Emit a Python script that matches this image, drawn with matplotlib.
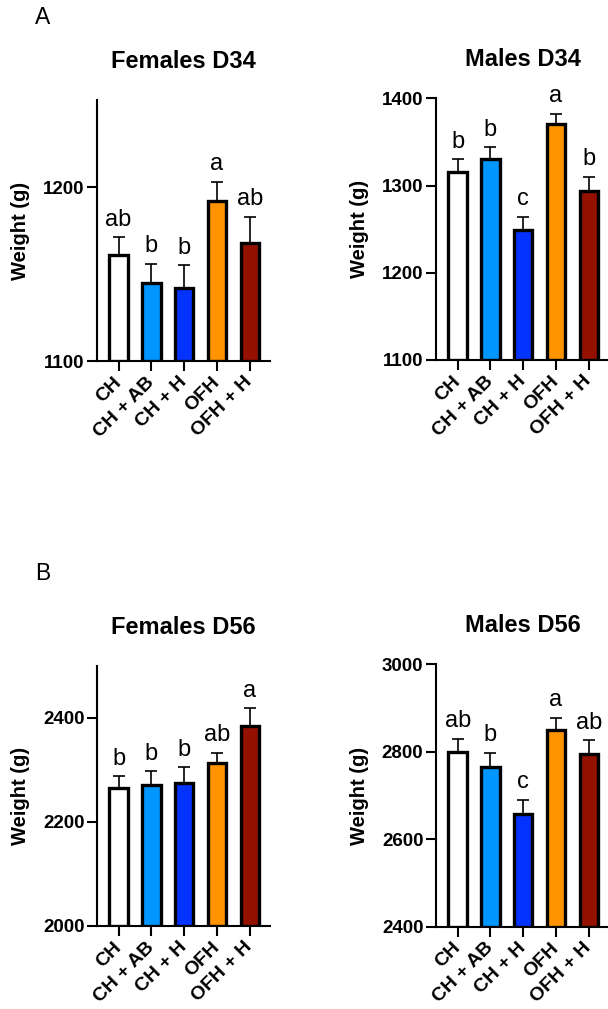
import matplotlib
matplotlib.use('Agg')
import matplotlib.pyplot as plt
import numpy as np

plt.rcParams['font.family'] = ['Liberation Sans', 'DejaVu Sans']

groups = ['CH', 'CH + AB', 'CH + H', 'OFH', 'OFH + H']
colors = ['#FFFFFF', '#0096FF', '#0433FF', '#FF9300', '#941100']

f34_mean = [1161, 1145, 1142, 1192, 1168]
f34_sem = [10, 11, 13, 11, 15]
f34_letters = ['ab', 'b', 'b', 'a', 'ab']

m34_mean = [1315, 1330, 1249, 1370, 1294]
m34_sem = [15, 14, 15, 12, 16]
m34_letters = ['b', 'b', 'c', 'a', 'b']

f56_mean = [2265, 2272, 2275, 2314, 2385]
f56_sem = [23, 26, 30, 19, 34]
f56_letters = ['b', 'b', 'b', 'ab', 'a']

m56_mean = [2799, 2766, 2658, 2849, 2795]
m56_sem = [31, 32, 32, 29, 31]
m56_letters = ['ab', 'b', 'c', 'a', 'ab']

W, H = 608, 1009


def make_ax(fig, left, top, bottom, width=173):
    return fig.add_axes([left / W, 1 - bottom / H, width / W, (bottom - top) / H])


def bar_panel(ax, title, means, sems, letters, ylim, yticks):
    x = np.arange(len(groups))
    base = ylim[0]
    heights = [m - base for m in means]
    ax.bar(x, heights, bottom=base, width=0.56, color=colors, edgecolor='black',
           linewidth=2.4, zorder=3)
    ax.errorbar(x, means, yerr=[np.zeros(len(means)), sems], fmt='none', ecolor='black',
                elinewidth=1.2, capsize=4.3, capthick=1.2, zorder=2)
    for xi, m, s, lab in zip(x, means, sems, letters):
        ax.annotate(lab, (xi, m + s), xytext=(0, 8.3), textcoords='offset points',
                    ha='center', va='baseline', fontsize=17)
    ax.set_xlim(-0.66, 4.62)
    ax.set_ylim(*ylim)
    ax.set_yticks(yticks)
    ax.set_yticklabels([str(t) for t in yticks], fontsize=13.5, fontweight='bold')
    ax.set_xticks(x)
    ax.set_xticklabels(groups, rotation=45, ha='right', va='center', rotation_mode='anchor',
                       fontsize=14, fontweight='bold')
    ax.tick_params(axis='both', direction='out', length=7.5, width=1.5)
    ax.tick_params(axis='y', pad=1.5)
    ax.tick_params(axis='x', pad=6)
    for sp in ['top', 'right']:
        ax.spines[sp].set_visible(False)
    for sp in ['left', 'bottom']:
        ax.spines[sp].set_linewidth(1.5)
    ax.set_ylabel('Weight (g)', fontsize=14.5, fontweight='bold', va='center')
    ax.yaxis.set_label_coords(-0.445, 0.5)
    ax.set_title(title, fontsize=17, fontweight='bold', pad=23)


fig = plt.figure(figsize=(W / 100, H / 100), dpi=100)

ax1 = make_ax(fig, 97, 100, 361)
bar_panel(ax1, 'Females D34', f34_mean, f34_sem, f34_letters, (1100, 1250), [1100, 1200])

ax2 = make_ax(fig, 436, 98.3, 360)
bar_panel(ax2, 'Males D34', m34_mean, m34_sem, m34_letters, (1100, 1400), [1100, 1200, 1300, 1400])

ax3 = make_ax(fig, 97, 666, 926)
bar_panel(ax3, 'Females D56', f56_mean, f56_sem, f56_letters, (2000, 2500), [2000, 2200, 2400])

ax4 = make_ax(fig, 436, 664.3, 926.7)
bar_panel(ax4, 'Males D56', m56_mean, m56_sem, m56_letters, (2400, 3000), [2400, 2600, 2800, 3000])

fig.text(43 / W, 1 - 18 / H, 'A', fontsize=16.5, ha='center', va='center')
fig.text(43 / W, 1 - 573 / H, 'B', fontsize=16.5, ha='center', va='center')

fig.savefig('out.png', dpi=100)
